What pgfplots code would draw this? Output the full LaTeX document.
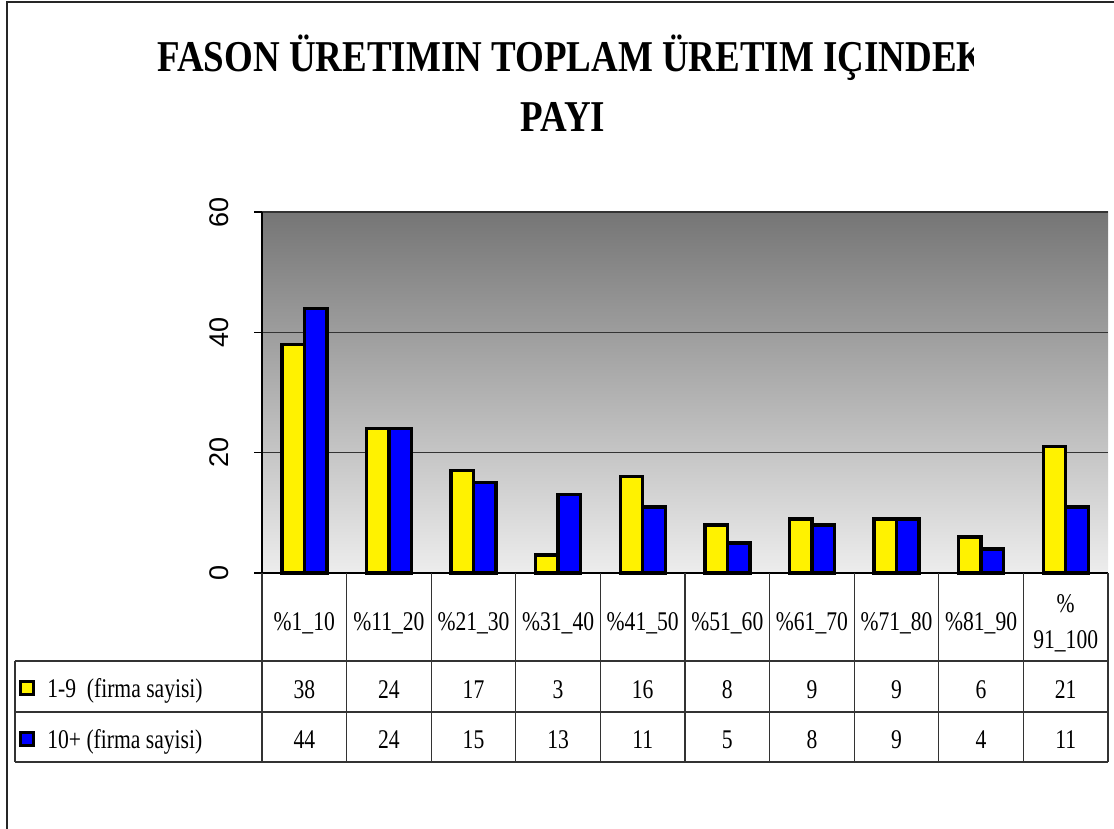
\documentclass[border=0pt]{standalone}
\usepackage{fontspec}
\setmainfont{Liberation Serif}
\newfontfamily\arialfont{Liberation Sans}
\usepackage{pgfplots}
\usepackage{pgfplotstable}
\pgfplotsset{compat=1.18}

% firm counts per share band: a = 1-9 employees, b = 10+
\pgfplotstableread{
x a b
0 38 44
1 24 24
2 17 15
3 3 13
4 16 11
5 8 5
6 9 8
7 9 9
8 6 4
9 21 11
}\firmdata

\newcommand\cellfont{\fontsize{13.5}{18}\selectfont}

\begin{document}
\begin{tikzpicture}[x=1pt,y=1pt]
\useasboundingbox (0,0) rectangle (557,414.5);

% chart frame (only left and top edges fall inside the picture)
\draw[black!85, line width=1pt] (3.25,0) -- (3.25,413.5) -- (557,413.5);

% title, first line clipped as in the original
\begin{scope}
  \clip (0,0) rectangle (486.5,414.5);
  \node[anchor=base west, inner sep=0pt, xscale=0.84,
        font=\bfseries\fontsize{22}{26}\selectfont]
    at (78.5,378.5) {FASON ÜRETIMIN TOPLAM ÜRETIM IÇINDEKI};
\end{scope}
\node[anchor=base, inner sep=0pt, xscale=0.84,
      font=\bfseries\fontsize{22}{26}\selectfont]
  at (281.5,348.5) {PAYI};

\begin{axis}[
  at={(131pt,128pt)}, anchor=south west,
  scale only axis, width=423pt, height=180.5pt,
  xmin=-0.5, xmax=9.5, ymin=0, ymax=60,
  clip=false,
  axis x line*=bottom, axis y line*=left,
  axis line style={black, line width=0.7pt, -},
  axis background/.style={top color=black!54, bottom color=black!7},
  ytick={0,20,40,60},
  ymajorgrids,
  major grid style={black!80, line width=0.6pt},
  tick align=outside,
  major tick length=4pt,
  ytick style={black, line width=0.6pt},
  /pgf/number format/assume math mode=true,
  yticklabel style={font=\arialfont\fontsize{13.5}{13.5}\selectfont,
                    xshift=-12.5pt, rotate=90, anchor=south, inner sep=0pt},
  xtick={0,...,9},
  xtick style={draw=none},
  xticklabels={\%1\_10, \%11\_20, \%21\_30, \%31\_40, \%41\_50,
               \%51\_60, \%61\_70, \%71\_80, \%81\_90, {\%\\91\_100}},
  xticklabel style={font=\cellfont, align=center, anchor=center,
                    inner sep=0pt, yshift=-21pt, xscale=0.8},
]
\addplot[ybar, bar width=11.25pt, bar shift=-5.625pt,
         fill=yellow, draw=black, line width=1.7pt]
  table[x=x, y=a] {\firmdata};
\addplot[ybar, bar width=11.25pt, bar shift=5.625pt,
         fill=blue, draw=black, line width=1.7pt]
  table[x=x, y=b] {\firmdata};

% data table rows under the axis
\addplot[draw=none, mark=none, point meta=explicit, nodes near coords,
         nodes near coords align={anchor=base},
         every node near coord/.append style={font=\cellfont, xscale=0.8,
                                              inner sep=0pt, black}]
  table[x=x, y expr=-20.78, meta=a] {\firmdata};
\addplot[draw=none, mark=none, point meta=explicit, nodes near coords,
         nodes near coords align={anchor=base},
         every node near coord/.append style={font=\cellfont, xscale=0.8,
                                              inner sep=0pt, black}]
  table[x=x, y expr=-29.25, meta=b] {\firmdata};
\end{axis}

% table grid
\begin{scope}[black!80, line width=0.6pt]
  \foreach \k in {0,...,10}
    \draw ({131+42.3*\k},128) -- ({131+42.3*\k},33.5);
  \draw (7.5,84) -- (554,84);
  \draw (7.5,58.5) -- (554,58.5);
  \draw (7.5,33.5) -- (554,33.5);
  \draw (7.5,84) -- (7.5,33.5);
\end{scope}

% legend keys inside the table
\draw[black, line width=1.6pt, fill=yellow] (10.25,67.25) rectangle (16.75,73.75);
\draw[black, line width=1.6pt, fill=blue] (10.25,41.75) rectangle (16.75,48.25);
\node[anchor=base west, inner sep=0pt, xscale=0.8, font=\cellfont]
  at (23.5,65.5) {1-9\ \ (firma sayisi)};
\node[anchor=base west, inner sep=0pt, xscale=0.8, font=\cellfont]
  at (23.5,40) {10+ (firma sayisi)};
\end{tikzpicture}
\end{document}
